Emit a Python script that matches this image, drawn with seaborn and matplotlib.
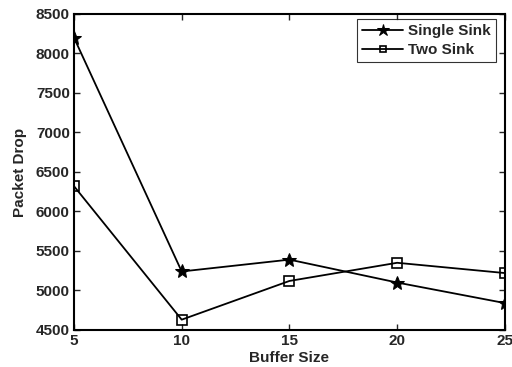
import matplotlib
matplotlib.use("Agg")
import matplotlib.pyplot as plt
import seaborn as sns
import pandas as pd

buffer_size = [5, 10, 15, 20, 25]
single_sink = [8200, 5240, 5390, 5100, 4840]
two_sink = [6320, 4630, 5120, 5350, 5220]
series_names = ["Single Sink", "Two Sink"]

df = pd.DataFrame({
    "Buffer Size": buffer_size * 2,
    "Packet Drop": single_sink + two_sink,
    "Series": [series_names[0]] * 5 + [series_names[1]] * 5,
})

sns.set_style("white")
plt.rcParams['font.family'] = ['Liberation Sans', 'DejaVu Sans']
plt.rcParams['font.weight'] = 'bold'

fig = plt.figure(figsize=(5.12, 3.67), dpi=100)
ax = fig.add_axes([0.1445, 0.101, 0.8415, 0.861])

sns.lineplot(data=df, x="Buffer Size", y="Packet Drop", hue="Series", style="Series",
             markers={"Single Sink": "*", "Two Sink": "s"}, dashes=False,
             palette={"Single Sink": "black", "Two Sink": "black"},
             markersize=9, linewidth=1.3, ax=ax, legend=True)


def style_line(line, sq_size=7, star_size=10):
    line.set_color('black')
    line.set_linestyle('-')
    if line.get_marker() == 's':
        line.set_markerfacecolor('none')
        line.set_markeredgecolor('black')
        line.set_markersize(sq_size)
        line.set_markeredgewidth(1.2)
    elif line.get_marker() == '*':
        line.set_markerfacecolor('black')
        line.set_markeredgecolor('black')
        line.set_markersize(star_size)


for line in ax.get_lines():
    style_line(line)

ax.set_xlim(5, 25)
ax.set_ylim(4500, 8500)
ax.set_xticks([5, 10, 15, 20, 25])
ax.set_yticks(range(4500, 8501, 500))
ax.tick_params(direction='in', length=4, width=1, labelsize=11, top=True, right=True,
               bottom=True, left=True, pad=3)
for lbl in ax.get_xticklabels() + ax.get_yticklabels():
    lbl.set_fontweight('bold')
for sp in ax.spines.values():
    sp.set_color('black')
    sp.set_linewidth(1.5)
ax.set_xlabel("Buffer Size", fontsize=11, fontweight='bold', labelpad=2)
ax.set_ylabel("Packet Drop", fontsize=11, fontweight='bold', labelpad=6)

handles, labels = ax.get_legend_handles_labels()
leg = ax.legend(handles, labels, loc='upper right', bbox_to_anchor=(1 - 9 / 431, 1 - 5 / 316),
                fontsize=11, frameon=True, fancybox=False,
                edgecolor='black', borderaxespad=0, handlelength=2.7,
                borderpad=0.35, labelspacing=0.3, handletextpad=0.3)
leg.get_frame().set_linewidth(0.8)
for t in leg.get_texts():
    t.set_fontweight('bold')
for h in leg.legend_handles:
    try:
        style_line(h, sq_size=5, star_size=9)
    except Exception:
        pass

fig.savefig("out.png", dpi=100, facecolor='white')
